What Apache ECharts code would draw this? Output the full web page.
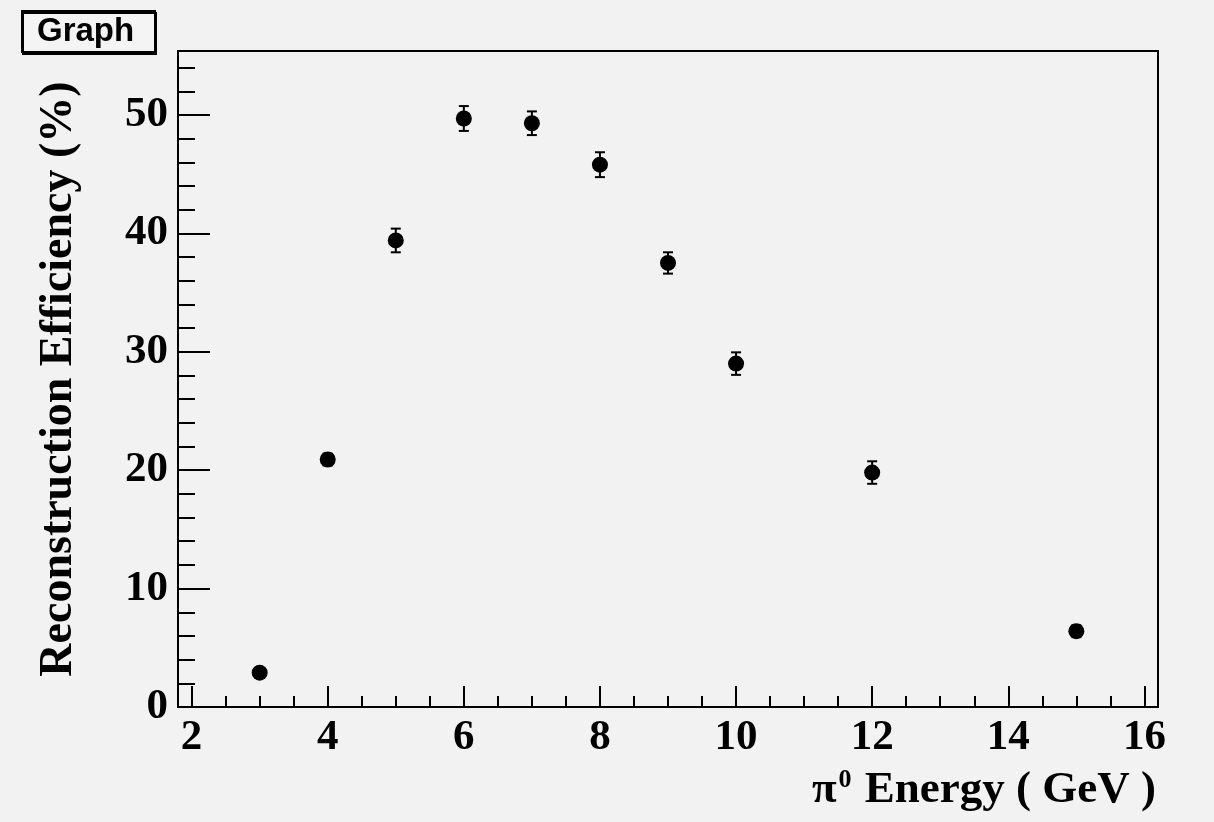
<!DOCTYPE html>
<html>
<head>
<meta charset="utf-8">
<script src="https://cdn.jsdelivr.net/npm/echarts@6/dist/echarts.min.js"></script>
<style>
  html, body { margin: 0; padding: 0; background: #f2f2f2; }
  #chart { width: 1214px; height: 822px; }
</style>
</head>
<body>
<div id="chart"></div>
<script>
// pi0 energy (GeV) and reconstruction efficiency (%)
const energy = [3, 4, 5, 6, 7, 8, 9, 10, 12, 15]
const efficiency = [2.9, 20.9, 39.4, 49.7, 49.3, 45.8, 37.5, 29.0, 19.8, 6.4]
const efficiencyErr = [0.3, 0.5, 1.0, 1.05, 1.0, 1.05, 0.9, 0.95, 0.95, 0.5]

const xMajorTicks = [2, 4, 6, 8, 10, 12, 14, 16]
const xMinorTicks = [2.5, 3, 3.5, 4.5, 5, 5.5, 6.5, 7, 7.5, 8.5, 9, 9.5, 10.5, 11, 11.5,
  12.5, 13, 13.5, 14.5, 15, 15.5]
const yMajorTicks = [0, 10, 20, 30, 40, 50]
const yMinorTicks = [2, 4, 6, 8, 12, 14, 16, 18, 22, 24, 26, 28, 32, 34, 36, 38,
  42, 44, 46, 48, 52, 54]

const serif = "'Liberation Serif', 'DejaVu Serif', serif"
const labelStyle = { fontFamily: serif, fontWeight: 'bold', fontSize: 43, color: '#000' }

const chart = echarts.init(document.getElementById('chart'))

function errorBar(params, api) {
  const x = api.value(0)
  const y = api.value(1)
  const e = api.value(2)
  const top = api.coord([x, y + e])
  const bot = api.coord([x, y - e])
  const hw = 5
  const style = { stroke: '#000', lineWidth: 2 }
  return {
    type: 'group',
    children: [
      { type: 'line', shape: { x1: top[0], y1: top[1], x2: bot[0], y2: bot[1] }, style },
      { type: 'line', shape: { x1: top[0] - hw, y1: top[1], x2: top[0] + hw, y2: top[1] }, style },
      { type: 'line', shape: { x1: bot[0] - hw, y1: bot[1], x2: bot[0] + hw, y2: bot[1] }, style }
    ]
  }
}

const option = {
  backgroundColor: '#f2f2f2',
  animation: false,
  title: {
    text: 'Graph',
    left: 22,
    top: 11,
    padding: [3, 21, 3, 15],
    borderColor: '#000',
    borderWidth: 2,
    backgroundColor: '#f4f4f4',
    shadowColor: '#000',
    shadowOffsetX: 1,
    shadowOffsetY: 2,
    textStyle: {
      fontFamily: "'Liberation Sans', Arial, sans-serif",
      fontWeight: 'bold',
      fontSize: 33,
      lineHeight: 35,
      color: '#000'
    }
  },
  grid: {
    left: 178,
    top: 51,
    right: 56,
    bottom: 115,
    show: true,
    borderColor: '#000',
    borderWidth: 2,
    backgroundColor: 'transparent'
  },
  xAxis: [
    {
      type: 'value',
      min: 1.8,
      max: 16.2,
      position: 'bottom',
      splitLine: { show: false },
      axisLine: { lineStyle: { color: '#000', width: 2 } },
      axisTick: { customValues: xMajorTicks, inside: true, length: 21, lineStyle: { color: '#000', width: 2 } },
      axisLabel: Object.assign({ customValues: xMajorTicks, margin: 9 }, labelStyle),
      name: '{pi|π}{sup|0} Energy ( GeV )',
      nameLocation: 'end',
      nameGap: 0,
      nameTextStyle: {
        align: 'right',
        verticalAlign: 'top',
        padding: [60, 2, 0, 0],
        fontFamily: serif,
        fontWeight: 'bold',
        fontSize: 45,
        color: '#000',
        rich: {
          pi: { fontFamily: serif, fontSize: 45, color: '#000' },
          sup: { fontFamily: serif, fontWeight: 'bold', fontSize: 26, color: '#000', padding: [0, 2, 20, 2] }
        }
      }
    },
    {
      type: 'value',
      min: 1.8,
      max: 16.2,
      position: 'bottom',
      splitLine: { show: false },
      axisLine: { show: false },
      axisTick: { customValues: xMinorTicks, inside: true, length: 11, lineStyle: { color: '#000', width: 2 } },
      axisLabel: { show: false }
    }
  ],
  yAxis: [
    {
      type: 'value',
      min: 0,
      max: 55.4,
      position: 'left',
      splitLine: { show: false },
      axisLine: { lineStyle: { color: '#000', width: 2 } },
      axisTick: { customValues: yMajorTicks, inside: true, length: 32, lineStyle: { color: '#000', width: 2 } },
      axisLabel: Object.assign({ customValues: yMajorTicks, margin: 10 }, labelStyle),
      name: 'Reconstruction Efficiency (%)',
      nameLocation: 'middle',
      nameGap: 96,
      nameTextStyle: { fontFamily: serif, fontWeight: 'bold', fontSize: 46, color: '#000' }
    },
    {
      type: 'value',
      min: 0,
      max: 55.4,
      position: 'left',
      splitLine: { show: false },
      axisLine: { show: false },
      axisTick: { customValues: yMinorTicks, inside: true, length: 17, lineStyle: { color: '#000', width: 2 } },
      axisLabel: { show: false }
    }
  ],
  series: [
    {
      type: 'custom',
      xAxisIndex: 0,
      yAxisIndex: 0,
      renderItem: errorBar,
      data: energy.map((x, i) => [x, efficiency[i], efficiencyErr[i]]),
      z: 2
    },
    {
      type: 'scatter',
      xAxisIndex: 0,
      yAxisIndex: 0,
      symbol: 'circle',
      symbolSize: 16,
      itemStyle: { color: '#000', opacity: 1 },
      data: energy.map((x, i) => [x, efficiency[i]]),
      z: 3
    }
  ]
}

chart.setOption(option)
</script>
</body>
</html>
